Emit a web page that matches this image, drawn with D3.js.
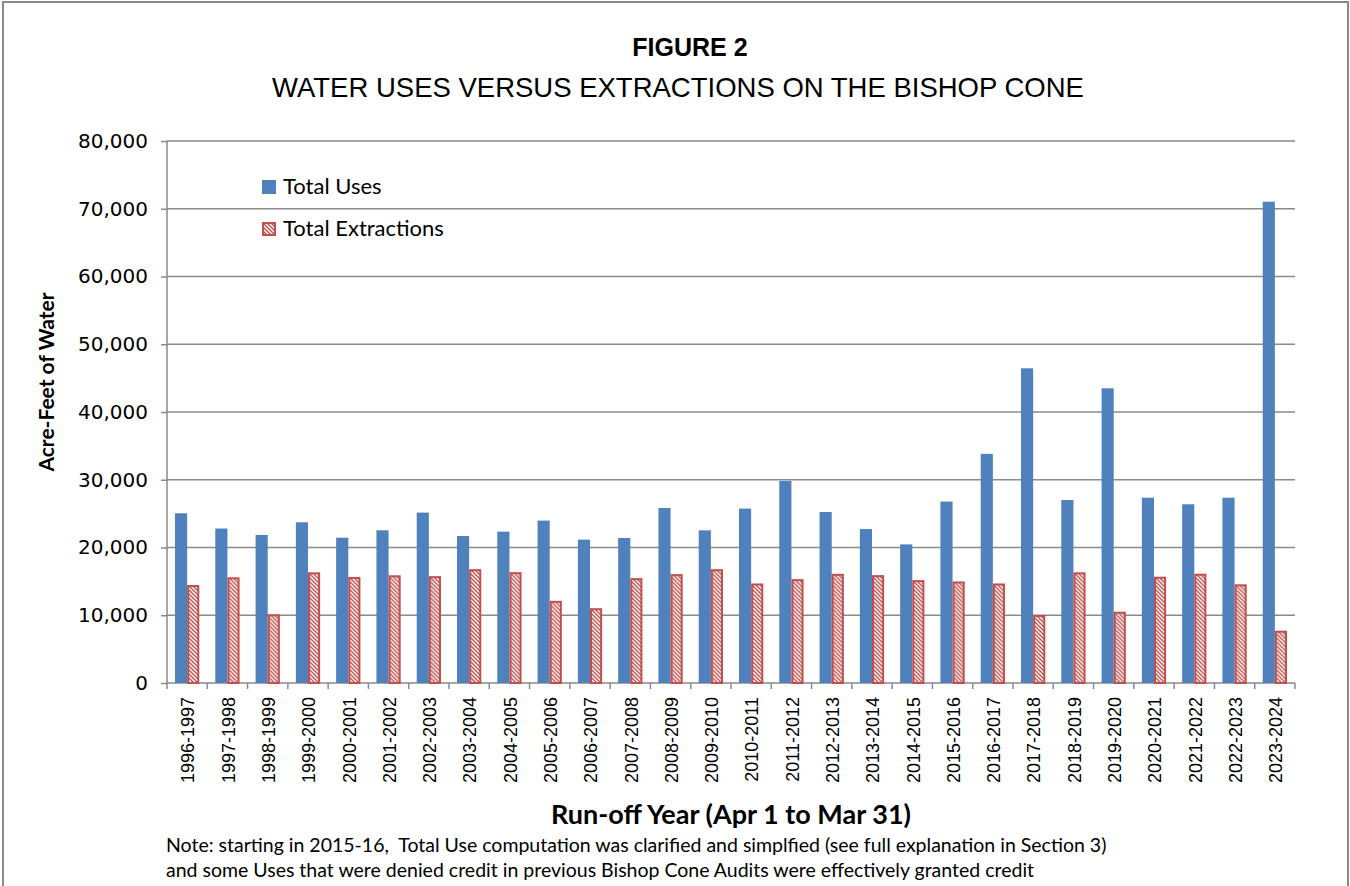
<!DOCTYPE html>
<meta charset="utf-8">

<style>
body{
	background-color: #fff;
	margin: 0px;
}

text{
	fill: #000;
}

.grid line{
	stroke: #8a8a8a;
	stroke-width: 1.5;
}

</style>

<body></body>

<script src="https://d3js.org/d3.v7.min.js"></script>

<script>

var years = ['1996-1997', '1997-1998', '1998-1999', '1999-2000', '2000-2001', '2001-2002', '2002-2003',
	'2003-2004', '2004-2005', '2005-2006', '2006-2007', '2007-2008', '2008-2009', '2009-2010',
	'2010-2011', '2011-2012', '2012-2013', '2013-2014', '2014-2015', '2015-2016', '2016-2017',
	'2017-2018', '2018-2019', '2019-2020', '2020-2021', '2021-2022', '2022-2023', '2023-2024']

var totalUses = [25050, 22800, 21850, 23720, 21450, 22540, 25150, 21690, 22340, 23970, 21160, 21400, 25830, 22530,
	25740, 29830, 25240, 22720, 20460, 26780, 33820, 46450, 27010, 43500, 27350, 26380, 27350, 71040]

var totalExtractions = [14470, 15600, 10140, 16340, 15650, 15900, 15770, 16800, 16360, 12130, 11040, 15480, 16070, 16800,
	14690, 15330, 16120, 15920, 15180, 14990, 14690, 10040, 16340, 10520, 15690, 16130, 14570, 7720]

var yTicks = [0, 10000, 20000, 30000, 40000, 50000, 60000, 70000, 80000]

var series = ['Total Uses', 'Total Extractions']

var width = 1350,
		height = 886,
		pLeft = 167, pRight = 1295, pTop = 141, pBottom = 683,
		blue = '#4f81bd', red = '#c0504d', gray = '#8a8a8a',
		calibri = 'Lato, "Open Sans", sans-serif'

var svg = d3.select('body')
	.append('svg')
		.attr('width', width)
		.attr('height', height)

var defs = svg.append('defs')
var pat = defs.append('pattern')
		.attr('id', 'hatch')
		.attr('patternUnits', 'userSpaceOnUse')
		.attr('width', 4)
		.attr('height', 4)
pat.append('rect').attr('width', 4).attr('height', 4).attr('fill', '#fff')
pat.append('path')
		.attr('d', 'M-1,-1L5,5M3,-1L5,1M-1,3L1,5')
		.attr('stroke', red)
		.attr('stroke-width', 1.4)

svg.append('rect')
		.attr('width', width).attr('height', height).attr('fill', '#fff')

// chart frame
svg.append('rect')
		.attr('x', 3).attr('y', 2)
		.attr('width', 1345).attr('height', 920)
		.attr('fill', 'none')
		.attr('stroke', gray)
		.attr('stroke-width', 2)

var x = d3.scaleBand().domain(years).range([pLeft, pRight])
var xs = d3.scaleBand().domain(series).range([0, x.bandwidth()]).paddingOuter(0.66)
var y = d3.scaleLinear().domain([0, 80000]).range([pBottom, pTop])

svg.append('g')
		.attr('class', 'grid')
	.selectAll('line')
	.data(yTicks.slice(1)).enter().append('line')
		.attr('x1', pLeft).attr('x2', pRight)
		.attr('y1', function(d){ return y(d) })
		.attr('y2', function(d){ return y(d) })

var yAxis = svg.append('g')
		.attr('transform', 'translate(' + pLeft + ',0)')
		.call(d3.axisLeft(y).tickValues(yTicks).tickFormat(d3.format(',')).tickSize(6).tickPadding(13))
yAxis.selectAll('line, path').attr('stroke', gray).attr('stroke-width', 1.5)
yAxis.select('.domain').attr('d', 'M0,' + pTop + 'V' + pBottom)
yAxis.selectAll('text')
		.style('font-family', '"DejaVu Sans", sans-serif')
		.style('font-size', '20px')
		.attr('fill', '#000')

var xAxis = svg.append('g')
		.attr('transform', 'translate(0,' + pBottom + ')')
xAxis.append('line')
		.attr('x1', pLeft).attr('x2', pRight)
		.attr('stroke', gray).attr('stroke-width', 1.5)
xAxis.selectAll('.tk')
	.data(years.concat(['end'])).enter().append('line')
		.attr('x1', function(d, i){ return pLeft + i * x.step() })
		.attr('x2', function(d, i){ return pLeft + i * x.step() })
		.attr('y1', 0).attr('y2', 6)
		.attr('stroke', gray).attr('stroke-width', 1.5)
xAxis.selectAll('text')
	.data(years).enter().append('text')
		.attr('transform', function(d){ return 'translate(' + (x(d) + x.bandwidth() / 2 + 1) + ',14) rotate(-90)' })
		.attr('text-anchor', 'end')
		.attr('dy', '0.35em')
		.style('font-family', '"Liberation Sans", Arial, sans-serif')
		.style('font-size', '18px')
		.text(function(d){ return d })

var groups = svg.append('g').selectAll('g')
	.data(years).enter().append('g')
		.attr('transform', function(d){ return 'translate(' + x(d) + ',0)' })

groups.append('rect')
		.attr('x', xs('Total Uses'))
		.attr('width', xs.bandwidth())
		.attr('y', function(d, i){ return y(totalUses[i]) })
		.attr('height', function(d, i){ return pBottom - y(totalUses[i]) })
		.attr('fill', blue)

groups.append('rect')
		.attr('x', xs('Total Extractions') + 1)
		.attr('width', xs.bandwidth() - 2)
		.attr('y', function(d, i){ return y(totalExtractions[i]) + 1 })
		.attr('height', function(d, i){ return pBottom - y(totalExtractions[i]) - 1 })
		.attr('fill', 'url(#hatch)')
		.attr('stroke', red)
		.attr('stroke-width', 2)

// legend
var legend = svg.append('g')
legend.append('rect')
		.attr('x', 262).attr('y', 180).attr('width', 14).attr('height', 14)
		.attr('fill', blue)
legend.append('rect')
		.attr('x', 263).attr('y', 223).attr('width', 12).attr('height', 12)
		.attr('fill', 'url(#hatch)').attr('stroke', red).attr('stroke-width', 2)
legend.selectAll('text')
	.data(series).enter().append('text')
		.attr('x', 283)
		.attr('y', function(d, i){ return 194 + i * 42 })
		.style('font-family', calibri)
		.style('font-size', '22px')
		.text(function(d){ return d })

// titles
svg.append('text')
		.attr('x', 690).attr('y', 56)
		.attr('text-anchor', 'middle')
		.style('font-family', '"Liberation Sans", Arial, sans-serif')
		.style('font-size', '25px')
		.style('font-weight', 'bold')
		.text('FIGURE 2')

svg.append('text')
		.attr('x', 678).attr('y', 97)
		.attr('text-anchor', 'middle')
		.style('font-family', '"Liberation Sans", Arial, sans-serif')
		.style('font-size', '27.5px')
		.text('WATER USES VERSUS EXTRACTIONS ON THE BISHOP CONE')

svg.append('text')
		.attr('transform', 'translate(54,' + ((pTop + pBottom) / 2 - 30) + ') rotate(-90)')
		.attr('text-anchor', 'middle')
		.style('font-family', calibri)
		.style('font-size', '21px')
		.style('font-weight', 'bold')
		.text('Acre-Feet of Water')

svg.append('text')
		.attr('x', (pLeft + pRight) / 2).attr('y', 824)
		.attr('text-anchor', 'middle')
		.style('font-family', calibri)
		.style('font-size', '27px')
		.style('font-weight', 'bold')
		.text('Run-off Year (Apr 1 to Mar 31)')

var notes = ['Note: starting in 2015-16,\u00a0 Total Use computation was clarified and simplfied (see full explanation in Section 3)',
	'and some Uses that were denied credit in previous Bishop Cone Audits were effectively granted credit']

svg.selectAll('.note')
	.data(notes).enter().append('text')
		.attr('x', 166)
		.attr('y', function(d, i){ return 852 + i * 25 })
		.style('font-family', calibri)
		.style('font-size', '19.5px')
		.text(function(d){ return d })

</script>
